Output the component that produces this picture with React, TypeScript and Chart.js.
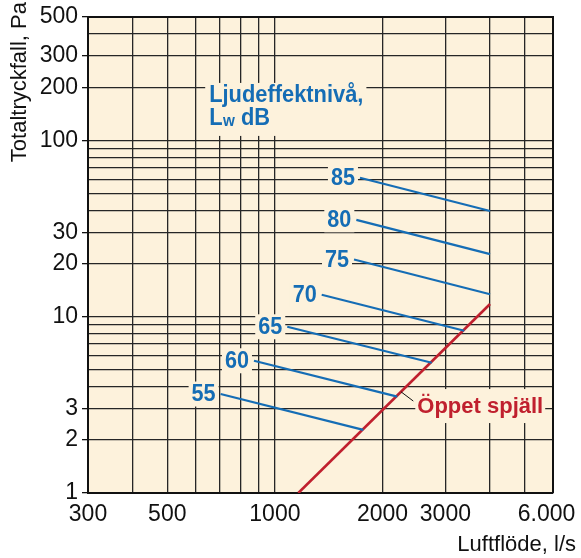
import React, { useEffect, useRef } from 'react';
import { Chart, registerables } from 'chart.js';

Chart.register(...registerables);

// ---- Axis ticks ----
const flowTicks = [300, 400, 500, 600, 700, 800, 900, 1000, 2000, 3000, 4000, 5000, 6000];
const flowTickLabels: Record<number, string> = {
  300: '300', 500: '500', 1000: '1000', 2000: '2000', 3000: '3000', 6000: '6.000  ',
};
const pressureTicks = [1, 2, 3, 4, 5, 6, 7, 8, 9, 10, 20, 30, 40, 50, 60, 70, 80, 90, 100, 200, 300, 400, 500];
const pressureTickLabels: Record<number, string> = {
  1: '1', 2: '2', 3: '3', 10: '10', 20: '20', 30: '30', 100: '100', 200: '200', 300: '300', 500: '500',
};

// ---- Sound power level lines (Lw dB) ----
const lwLevels = [55, 60, 65, 70, 75, 80, 85];
const lwStartFlow = [705, 874, 1083, 1352, 1665, 1690, 1730];
const lwStartPressure = [3.64, 5.62, 8.76, 13.3, 21.1, 35.4, 61.3];
const lwEndFlow = [1768, 2200, 2747, 3388, 4000, 4000, 4000];
const lwEndPressure = [2.28, 3.52, 5.48, 8.32, 13.4, 22.6, 39.7];

// ---- Open damper curve ----
const openFlow = [1163, 4000];
const openPressure = [1, 11.8];

// ---- Texts ----
const xTitle = 'Luftflöde, l/s';
const yTitle = 'Totaltryckfall, Pa';
const lwTitleLine1 = 'Ljudeffektnivå,';
const openLabel = 'Öppet spjäll';
const lwTitleAnchor = { flow: 655, pressure: 165 };
const openLabelAnchor = { flow: 2503, pressure: 2.84 };
const leaderAnchor = { flow: 2253, pressure: 3.75 };

const FONT = '"Liberation Sans", Arial, Helvetica, sans-serif';
const BG = '#fdf2dc';
const BLUE = '#156db5';
const RED = '#c0202e';
const GRID = '#262626';

const NUM_FONT = `bold 24px ${FONT}`;
const NUM_SX = 0.9;
const TITLE_FONT = `bold 23px ${FONT}`;
const TITLE_SX = 0.95;

function scaledText(ctx: any, text: string, x: number, y: number, sx: number) {
  ctx.save();
  ctx.translate(x, y);
  ctx.scale(sx, 1);
  ctx.fillText(text, 0, 0);
  ctx.restore();
}

const annotate = {
  id: 'annotate',
  beforeDraw(chart: any) {
    const { ctx, chartArea: a } = chart;
    ctx.save();
    ctx.fillStyle = BG;
    ctx.fillRect(a.left, a.top, a.right - a.left, a.bottom - a.top);
    ctx.restore();
  },
  beforeDatasetsDraw(chart: any) {
    const { ctx, chartArea: a } = chart;
    const xs = chart.scales.x;
    const ys = chart.scales.y;
    ctx.save();
    ctx.fillStyle = BG;
    ctx.font = NUM_FONT;
    lwLevels.forEach((lv, i) => {
      const px = xs.getPixelForValue(lwStartFlow[i]);
      const py = ys.getPixelForValue(lwStartPressure[i]);
      const w = ctx.measureText(String(lv)).width * NUM_SX;
      ctx.fillRect(px - 5 - w - 3, py - 12.5, w + 6, 25);
    });
    // title box
    ctx.font = TITLE_FONT;
    const tx = xs.getPixelForValue(lwTitleAnchor.flow);
    const ty = ys.getPixelForValue(lwTitleAnchor.pressure);
    const tw = ctx.measureText(lwTitleLine1).width * TITLE_SX;
    ctx.fillRect(tx - 4, ty - 19, tw + 7, 53);
    // open label box
    ctx.font = `bold 22px ${FONT}`;
    const ox = xs.getPixelForValue(openLabelAnchor.flow);
    const oy = ys.getPixelForValue(openLabelAnchor.pressure);
    const ow = ctx.measureText(openLabel).width;
    ctx.fillRect(ox - 2, oy - 24, ow + 4, 34);

    // frame top/right
    ctx.strokeStyle = '#111';
    ctx.lineWidth = 2;
    ctx.beginPath();
    ctx.moveTo(a.left, a.top);
    ctx.lineTo(a.right, a.top);
    ctx.lineTo(a.right, a.bottom);
    ctx.stroke();
    ctx.restore();
  },
  afterDatasetsDraw(chart: any) {
    const { ctx } = chart;
    const xs = chart.scales.x;
    const ys = chart.scales.y;
    ctx.save();
    // level numbers
    ctx.font = NUM_FONT;
    ctx.fillStyle = BLUE;
    ctx.textAlign = 'right';
    ctx.textBaseline = 'middle';
    lwLevels.forEach((lv, i) => {
      const px = xs.getPixelForValue(lwStartFlow[i]);
      const py = ys.getPixelForValue(lwStartPressure[i]);
      scaledText(ctx, String(lv), px - 5, py + 0.5, NUM_SX);
    });
    // title
    const tx = xs.getPixelForValue(lwTitleAnchor.flow);
    const ty = ys.getPixelForValue(lwTitleAnchor.pressure);
    ctx.font = TITLE_FONT;
    ctx.textAlign = 'left';
    ctx.textBaseline = 'alphabetic';
    scaledText(ctx, lwTitleLine1, tx, ty, TITLE_SX);
    const y2 = ty + 23.3;
    scaledText(ctx, 'L', tx, y2, TITLE_SX);
    const wL = ctx.measureText('L').width * TITLE_SX;
    ctx.font = `bold 16px ${FONT}`;
    scaledText(ctx, 'w', tx + wL + 0.5, y2 + 0.5, TITLE_SX);
    const ww = ctx.measureText('w').width * TITLE_SX;
    ctx.font = TITLE_FONT;
    scaledText(ctx, ' dB', tx + wL + 0.5 + ww, y2, TITLE_SX);

    // open label + leader
    ctx.font = `bold 22px ${FONT}`;
    const ox = xs.getPixelForValue(openLabelAnchor.flow);
    const oy = ys.getPixelForValue(openLabelAnchor.pressure);
    const lx = xs.getPixelForValue(leaderAnchor.flow);
    const ly = ys.getPixelForValue(leaderAnchor.pressure);
    ctx.strokeStyle = '#111';
    ctx.lineWidth = 1;
    ctx.beginPath();
    ctx.moveTo(lx, ly);
    ctx.lineTo(ox - 4, oy - 12);
    ctx.stroke();
    ctx.fillStyle = RED;
    ctx.fillText(openLabel, ox, oy);

    // axis titles
    ctx.fillStyle = '#111';
    ctx.font = `22px ${FONT}`;
    ctx.textAlign = 'right';
    ctx.textBaseline = 'alphabetic';
    ctx.fillText(xTitle, 576, 551);
    ctx.translate(20, 2);
    ctx.rotate(-Math.PI / 2);
    ctx.textBaseline = 'middle';
    ctx.fillText(yTitle, 0, 0);
    ctx.restore();
  },
};

export default function App() {
  const ref = useRef<HTMLCanvasElement>(null);
  useEffect(() => {
    const datasets: any[] = lwLevels.map((lv, i) => ({
      label: `${lv} dB`,
      data: [
        { x: lwStartFlow[i], y: lwStartPressure[i] },
        { x: lwEndFlow[i], y: lwEndPressure[i] },
      ],
      borderColor: BLUE,
      borderWidth: 2.2,
      pointRadius: 0,
      showLine: true,
    }));
    datasets.push({
      label: openLabel,
      data: openFlow.map((f, i) => ({ x: f, y: openPressure[i] })),
      borderColor: RED,
      borderWidth: 2.6,
      pointRadius: 0,
      showLine: true,
    });
    const chart = new Chart(ref.current!, {
      type: 'scatter',
      data: { datasets },
      plugins: [annotate],
      options: {
        animation: false,
        responsive: false,
        devicePixelRatio: 1,
        layout: { padding: { top: 17, right: 28, left: 0, bottom: 0 } },
        plugins: { legend: { display: false }, tooltip: { enabled: false } },
        scales: {
          x: {
            type: 'logarithmic',
            min: 300,
            max: 6000,
            afterBuildTicks: (s: any) => { s.ticks = flowTicks.map((v) => ({ value: v })); },
            afterFit: (s: any) => {
              s.height = 65;
              s.paddingLeft = 0; s.paddingRight = 0; s.paddingTop = 0; s.paddingBottom = 0;
            },
            ticks: {
              autoSkip: false,
              maxRotation: 0,
              minRotation: 0,
              padding: 8,
              color: '#111',
              font: { family: FONT, size: 23 },
              callback: (v: any) => flowTickLabels[v as number] ?? '',
            },
            grid: { color: GRID, lineWidth: 1.3, drawTicks: false },
            border: { display: true, color: '#111', width: 2 },
          },
          y: {
            type: 'logarithmic',
            min: 1,
            max: 500,
            afterBuildTicks: (s: any) => { s.ticks = pressureTicks.map((v) => ({ value: v })); },
            afterFit: (s: any) => {
              s.width = 88;
              s.paddingLeft = 0; s.paddingRight = 0; s.paddingTop = 0; s.paddingBottom = 0;
            },
            ticks: {
              autoSkip: false,
              padding: 4,
              color: '#111',
              font: { family: FONT, size: 23 },
              callback: (v: any) => pressureTickLabels[v as number] ?? '',
            },
            grid: {
              color: GRID,
              lineWidth: 1.3,
              drawTicks: true,
              tickLength: 6,
              tickColor: (c: any) => (c.tick && pressureTickLabels[c.tick.value] ? '#111' : 'rgba(0,0,0,0)'),
            },
            border: { display: true, color: '#111', width: 2 },
          },
        },
      } as any,
    });
    return () => chart.destroy();
  }, []);
  return (
    <div style={{ position: 'absolute', left: 0, top: 0, width: 581, height: 558 }}>
      <canvas ref={ref} width={581} height={558} style={{ display: 'block', width: 581, height: 558 }} />
    </div>
  );
}
